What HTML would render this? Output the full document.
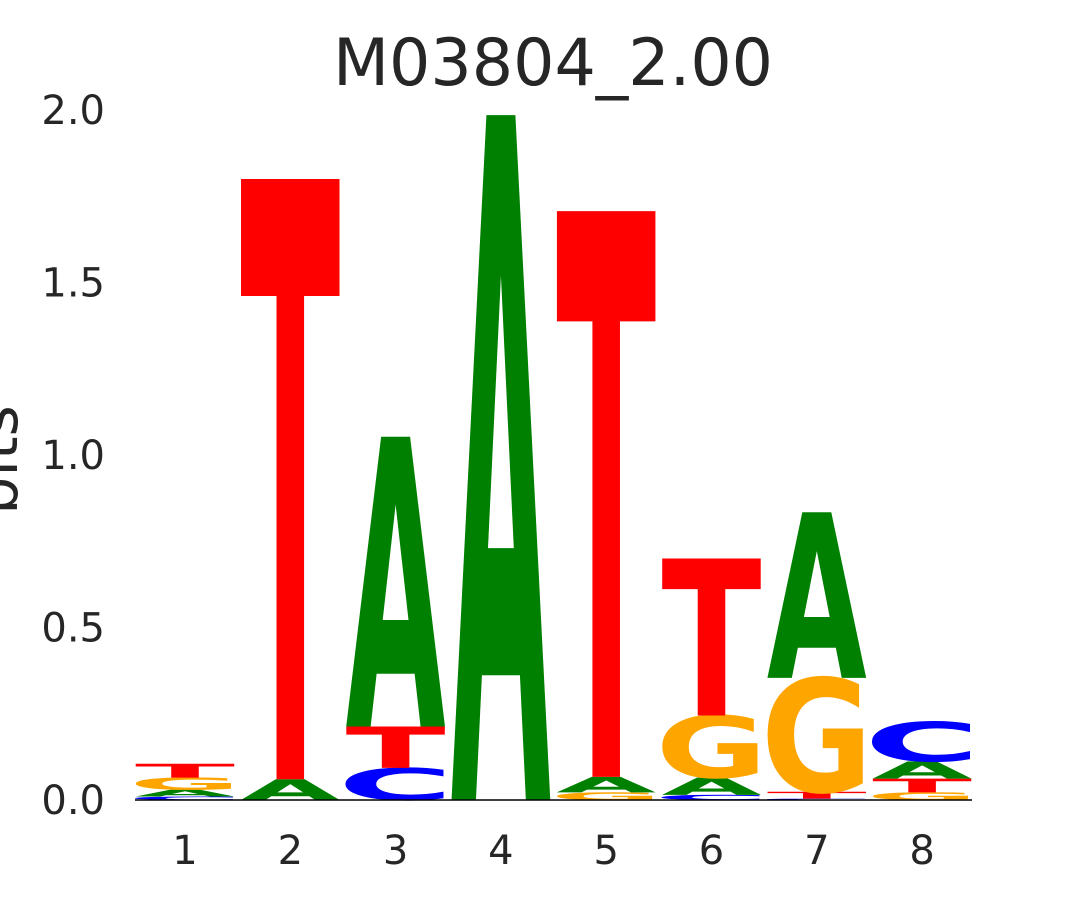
<!DOCTYPE html>
<html><head><meta charset="utf-8"><style>
html,body{margin:0;padding:0;background:#fff;width:1080px;height:900px;overflow:hidden}
svg{display:block}
svg text{font-family:"DejaVu Sans","Liberation Sans",sans-serif}
</style></head><body>
<svg id="chart" width="1080" height="900" xmlns="http://www.w3.org/2000/svg">
<text x="553" y="85" font-size="65" text-anchor="middle" fill="#262626">M03804_2.00</text>
<text transform="translate(17,460) rotate(-90)" font-size="60" text-anchor="middle" fill="#262626">bits</text>
<g id="yticks"></g><g id="xticks"></g><g id="letters"></g>
<line x1="135" x2="972" y1="800" y2="800" stroke="#000" stroke-width="1.5"/>
</svg>
<script>
const positions = [1,2,3,4,5,6,7,8];
// stacks bottom to top: [letter, bits]
const stacks = [
 [["C",0.01],["A",0.02],["G",0.035],["T",0.04]],
 [["A",0.06],["T",1.74]],
 [["C",0.093],["T",0.12],["A",0.84]],
 [["A",1.985]],
 [["G",0.022],["A",0.045],["T",1.64]],
 [["C",0.015],["A",0.05],["G",0.18],["T",0.455]],
 [["C",0.004],["T",0.02],["G",0.33],["A",0.48]],
 [["G",0.022],["T",0.04],["A",0.05],["C",0.115]]
];
const yTicks = [0.0,0.5,1.0,1.5,2.0];
const colors = {A:"green",C:"blue",G:"orange",T:"red"};
const widthFactor = {A:1.0,C:1.16,G:1.12,T:1.0};
const NS="http://www.w3.org/2000/svg";
const y = v => 800 - v*345;
const x = p => 185 + (p-1)*105.3;
const yt=document.getElementById('yticks'), xt=document.getElementById('xticks'), lg=document.getElementById('letters');
yTicks.forEach(v=>{
  const t=document.createElementNS(NS,'text');
  
  
  t.setAttribute('x',105);t.setAttribute('y',y(v)+14);t.setAttribute('font-size',40);
  t.setAttribute('text-anchor','end');t.setAttribute('fill','#262626');
  t.textContent=v.toFixed(1);yt.appendChild(t);
});
positions.forEach((p,i)=>{
  const t=document.createElementNS(NS,'text');
  
  
  t.setAttribute('x',x(p));t.setAttribute('y',864);t.setAttribute('font-size',40);
  t.setAttribute('text-anchor','middle');t.setAttribute('fill','#262626');
  t.textContent=p;xt.appendChild(t);
  let base=0;
  stacks[i].forEach(([L,h])=>{
    const bot=y(base), px=h*345, w=100*widthFactor[L];
    const g=document.createElementNS(NS,'text');
    
    
    g.setAttribute('font-size',100);g.setAttribute('font-weight','bold');
    g.setAttribute('fill',colors[L]);
    g.setAttribute('x',0);g.setAttribute('y',0);
    g.setAttribute('textLength',w);g.setAttribute('lengthAdjust','spacingAndGlyphs');
    g.setAttribute('transform',`translate(${x(p)-w/2},${bot}) scale(1,${px/72.9})`);
    g.textContent=L;lg.appendChild(g);
    base+=h;
  });
});
</script>
</body></html>
